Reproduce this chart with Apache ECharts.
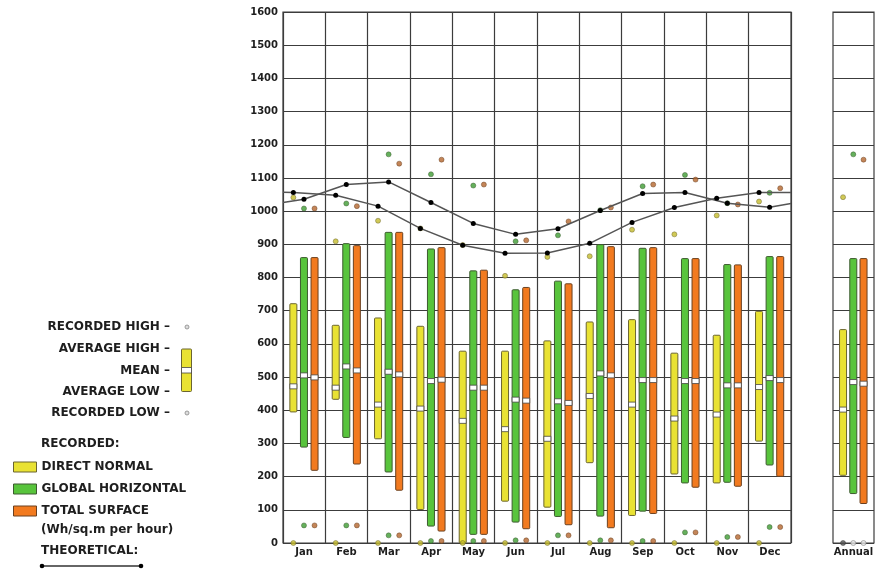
<!DOCTYPE html>
<html>
<head>
<meta charset="utf-8">
<script src="https://cdn.jsdelivr.net/npm/echarts@6/dist/echarts.min.js"></script>
<style>
  html, body { margin: 0; padding: 0; background: #fff; }
  #chart { width: 878px; height: 570px; }
</style>
</head>
<body>
<div id="chart"></div>
<script>
// Monthly solar radiation, Wh/sq.m per hour
const months = ['Jan', 'Feb', 'Mar', 'Apr', 'May', 'Jun', 'Jul', 'Aug', 'Sep', 'Oct', 'Nov', 'Dec'];
const yTicks = { min: 0, max: 1600, step: 100 };

// Direct normal
const dnAvgHigh = [721, 656, 678, 653, 578, 578, 609, 666, 673, 572, 626, 698];
const dnAvgLow  = [395, 433, 314, 101, 0, 126, 108, 242, 83, 208, 181, 307];
const dnMean    = [472, 468, 417, 405, 368, 343, 314, 443, 417, 375, 387, 470];
const dnRecHigh = [1041, 909, 971, 948, 898, 805, 862, 864, 944, 930, 987, 1029];
const dnRecLow  = [0, 0, 0, 0, 0, 0, 0, 0, 0, 0, 0, 0];

// Global horizontal
const ghAvgHigh = [860, 902, 936, 886, 820, 763, 789, 899, 888, 857, 839, 863];
const ghAvgLow  = [289, 318, 214, 51, 26, 63, 80, 81, 96, 181, 183, 235];
const ghMean    = [505, 532, 516, 488, 468, 432, 427, 511, 491, 488, 475, 497];
const ghRecHigh = [1008, 1023, 1171, 1111, 1077, 909, 927, 1003, 1075, 1109, 1024, 1055];
const ghRecLow  = [53, 53, 23, 6, 6, 8, 23, 8, 6, 32, 18, 48];

// Total surface
const tsAvgHigh = [860, 896, 936, 890, 822, 770, 781, 893, 890, 857, 838, 863];
const tsAvgLow  = [219, 238, 159, 36, 26, 43, 55, 46, 89, 168, 171, 201];
const tsMean    = [499, 520, 508, 492, 468, 429, 422, 505, 491, 488, 475, 491];
const tsRecHigh = [1008, 1015, 1143, 1155, 1080, 912, 969, 1011, 1080, 1095, 1020, 1069];
const tsRecLow  = [53, 53, 23, 6, 6, 8, 23, 8, 6, 32, 18, 48];

// Annual summary: [direct normal, global horizontal, total surface]
const annualLabel   = ['Annual'];
const annualAvgHigh = [643, 857, 857];
const annualAvgLow  = [204, 149, 119];
const annualMean    = [402, 485, 480];
const annualRecHigh = [1042, 1171, 1155];
const annualRecLow  = [0, 0, 0];

// Theoretical curves (values at each month, plus the year wrap-around at both edges)
const theoDN       = [1056, 1048, 1015, 948, 897, 873, 874, 903, 966, 1011, 1039, 1056];
const theoDNEdges  = [1057, 1056];
const theoGH       = [1036, 1080, 1088, 1026, 963, 930, 947, 1002, 1053, 1056, 1024, 1012];
const theoGHEdges  = [1026, 1023];

// ---- styling ----
const FONT = 'DejaVu Sans';
const TEXT = '#1e1e1e';
const GRIDC = '#3c3c3c';
const COLORS = {
  dn: { bar: '#e9e233', dot: '#c4bc2c', edge: '#6b6530' },
  gh: { bar: '#58c43c', dot: '#3f9c33', edge: '#3d5a30' },
  ts: { bar: '#f27a1f', dot: '#b4662e', edge: '#6a4020' }
};
const OFF = { dn: 0.245, gh: 0.495, ts: 0.745 };
const BAR_W = 7;

function rangeRender(color, edge) {
  return function (params, api) {
    const x = api.value(0);
    const top = api.coord([x, api.value(2)]);
    const bot = api.coord([x, api.value(1)]);
    const mid = api.coord([x, api.value(3)]);
    return {
      type: 'group',
      children: [
        {
          type: 'rect',
          shape: { x: top[0] - BAR_W / 2, y: top[1], width: BAR_W, height: bot[1] - top[1], r: 1 },
          style: { fill: color, stroke: edge, lineWidth: 1 }
        },
        {
          type: 'rect',
          shape: { x: mid[0] - BAR_W / 2, y: mid[1] - 2.5, width: BAR_W, height: 5 },
          style: { fill: '#ffffff', stroke: '#444', lineWidth: 0.8 }
        }
      ]
    };
  };
}

function monthRanges(key, lo, hi, mean) {
  return months.map((m, i) => [i + OFF[key], lo[i], hi[i], mean[i]]);
}
function monthPoints(key, vals) {
  return months.map((m, i) => [i + OFF[key], vals[i]]);
}
function theoLine(key, vals, edges) {
  const pts = [[0, edges[0]]];
  vals.forEach((v, i) => pts.push([i + OFF[key], v]));
  pts.push([months.length, edges[1]]);
  return pts;
}

const names = { dn: 'DIRECT NORMAL', gh: 'GLOBAL HORIZONTAL', ts: 'TOTAL SURFACE' };
const monthly = {
  dn: [dnAvgLow, dnAvgHigh, dnMean, dnRecHigh, dnRecLow],
  gh: [ghAvgLow, ghAvgHigh, ghMean, ghRecHigh, ghRecLow],
  ts: [tsAvgLow, tsAvgHigh, tsMean, tsRecHigh, tsRecLow]
};

const series = [];
['dn', 'gh', 'ts'].forEach((key, k) => {
  const c = COLORS[key];
  const [lo, hi, mean, rh, rl] = monthly[key];
  series.push({
    name: names[key], type: 'custom', xAxisIndex: 0, yAxisIndex: 0, z: 3,
    itemStyle: { color: c.bar, borderColor: c.edge },
    renderItem: rangeRender(c.bar, c.edge),
    encode: { x: 0, y: [1, 2, 3] },
    data: monthRanges(key, lo, hi, mean)
  });
  const dotStyle = { color: c.dot, borderColor: c.edge, borderWidth: 0.6 };
  series.push({
    name: names[key] + ' high', type: 'scatter', xAxisIndex: 0, yAxisIndex: 0, z: 4,
    symbolSize: 5, itemStyle: dotStyle, data: monthPoints(key, rh)
  });
  series.push({
    name: names[key] + ' low', type: 'scatter', xAxisIndex: 0, yAxisIndex: 0, z: 4,
    symbolSize: 5, itemStyle: dotStyle, data: monthPoints(key, rl)
  });
  // annual panel
  series.push({
    name: names[key], type: 'custom', xAxisIndex: 2, yAxisIndex: 1, z: 3,
    itemStyle: { color: c.bar, borderColor: c.edge },
    renderItem: rangeRender(c.bar, c.edge),
    encode: { x: 0, y: [1, 2, 3] },
    data: [[OFF[key], annualAvgLow[k], annualAvgHigh[k], annualMean[k]]]
  });
  series.push({
    name: names[key] + ' annual high', type: 'scatter', xAxisIndex: 2, yAxisIndex: 1, z: 4,
    symbolSize: 5, itemStyle: dotStyle, data: [[OFF[key], annualRecHigh[k]]]
  });
  series.push({
    name: names[key] + ' annual low', type: 'scatter', xAxisIndex: 2, yAxisIndex: 1, z: 4,
    symbolSize: 5,
    itemStyle: k === 0
      ? { color: '#555', borderColor: '#333', borderWidth: 0.6 }
      : { color: '#e4e4e4', borderColor: '#8a8a8a', borderWidth: 0.8 },
    data: [[OFF[key], annualRecLow[k]]]
  });
});

[['dn', theoDN, theoDNEdges], ['gh', theoGH, theoGHEdges]].forEach(([key, vals, edges]) => {
  series.push({
    name: 'THEORETICAL ' + key, type: 'line', xAxisIndex: 0, yAxisIndex: 0, z: 6,
    symbol: 'circle', symbolSize: 5, showSymbol: true,
    itemStyle: { color: '#000' },
    lineStyle: { color: '#555', width: 1.5 },
    data: theoLine(key, vals, edges).map((p, i, a) => ({
      value: p,
      symbolSize: (i === 0 || i === a.length - 1) ? 0 : 5
    })),
    silent: true, animation: false
  });
});

const labelStyle = { fontFamily: FONT, fontWeight: 'bold', fontSize: 10, color: TEXT };
const splitStyle = { show: true, lineStyle: { color: GRIDC, width: 1.2 } };

const yAxisBase = {
  type: 'value', min: yTicks.min, max: yTicks.max, interval: yTicks.step,
  axisLine: { show: false }, axisTick: { show: false }, splitLine: splitStyle
};

// legend key drawn on the left
const keyRows = [
  ['RECORDED HIGH \u2013', 327],
  ['AVERAGE HIGH \u2013', 349],
  ['MEAN \u2013', 370.5],
  ['AVERAGE LOW \u2013', 391.5],
  ['RECORDED LOW \u2013', 413]
];
const textFont = 'bold 12px "DejaVu Sans"';
const graphics = keyRows.map(([t, y]) => ({
  type: 'text', x: 170, y: y,
  style: { text: t, font: textFont, fill: TEXT, align: 'right', verticalAlign: 'middle' }
}));
graphics.push(
  { type: 'circle', shape: { cx: 187, cy: 327, r: 2 }, style: { fill: '#ddd', stroke: '#888', lineWidth: 0.8 } },
  { type: 'circle', shape: { cx: 187, cy: 413, r: 2 }, style: { fill: '#ddd', stroke: '#888', lineWidth: 0.8 } },
  { type: 'rect', shape: { x: 181.5, y: 349, width: 10, height: 42.5, r: 1 }, style: { fill: COLORS.dn.bar, stroke: COLORS.dn.edge, lineWidth: 1 } },
  { type: 'rect', shape: { x: 181.5, y: 367.5, width: 10, height: 5.5 }, style: { fill: '#fff', stroke: '#444', lineWidth: 0.8 } },
  { type: 'text', x: 41, y: 444, style: { text: 'RECORDED:', font: textFont, fill: TEXT, verticalAlign: 'middle' } },
  { type: 'text', x: 41, y: 529.5, style: { text: '(Wh/sq.m per hour)', font: textFont, fill: TEXT, verticalAlign: 'middle' } },
  { type: 'text', x: 41, y: 550.5, style: { text: 'THEORETICAL:', font: textFont, fill: TEXT, verticalAlign: 'middle' } },
  { type: 'line', shape: { x1: 42, y1: 566, x2: 141, y2: 566 }, style: { stroke: '#333', lineWidth: 1.5 } },
  { type: 'circle', shape: { cx: 42, cy: 566, r: 2.3 }, style: { fill: '#000' } },
  { type: 'circle', shape: { cx: 141, cy: 566, r: 2.3 }, style: { fill: '#000' } }
);

const option = {
  animation: false,
  backgroundColor: '#fff',
  textStyle: { fontFamily: FONT },
  grid: [
    { left: 283, top: 12, width: 508, height: 531, show: true, borderColor: GRIDC, borderWidth: 1.2, backgroundColor: '#fff' },
    { left: 833, top: 12, width: 41, height: 531, show: true, borderColor: GRIDC, borderWidth: 1.2, backgroundColor: '#fff' }
  ],
  xAxis: [
    { type: 'value', gridIndex: 0, min: 0, max: months.length, interval: 1, position: 'bottom',
      axisLabel: { show: false }, axisLine: { show: false }, axisTick: { show: false }, splitLine: splitStyle },
    { type: 'category', gridIndex: 0, data: months, position: 'bottom', boundaryGap: true,
      axisLine: { show: false }, axisTick: { show: false }, splitLine: { show: false },
      axisLabel: Object.assign({ margin: 4 }, labelStyle) },
    { type: 'value', gridIndex: 1, min: 0, max: 1, interval: 1, position: 'bottom',
      axisLabel: { show: false }, axisLine: { show: false }, axisTick: { show: false }, splitLine: { show: false } },
    { type: 'category', gridIndex: 1, data: annualLabel, position: 'bottom', boundaryGap: true,
      axisLine: { show: false }, axisTick: { show: false }, splitLine: { show: false },
      axisLabel: Object.assign({ margin: 4 }, labelStyle) }
  ],
  yAxis: [
    Object.assign({ gridIndex: 0, axisLabel: Object.assign({ margin: 5, formatter: v => String(v) }, labelStyle) }, yAxisBase),
    Object.assign({ gridIndex: 1, axisLabel: { show: false } }, yAxisBase)
  ],
  legend: {
    orient: 'vertical', left: 8, top: 455, itemWidth: 23, itemHeight: 10, itemGap: 8,
    selectedMode: false,
    icon: 'rect',
    textStyle: { fontFamily: FONT, fontWeight: 'bold', fontSize: 12, color: TEXT, lineHeight: 14 },
    data: ['dn', 'gh', 'ts'].map(k => ({
      name: names[k], icon: 'rect',
      itemStyle: { color: COLORS[k].bar, borderColor: COLORS[k].edge, borderWidth: 1 }
    }))
  },
  graphic: graphics,
  series: series
};

const chart = echarts.init(document.getElementById('chart'), null, { renderer: 'canvas' });
chart.setOption(option);
</script>
</body>
</html>
